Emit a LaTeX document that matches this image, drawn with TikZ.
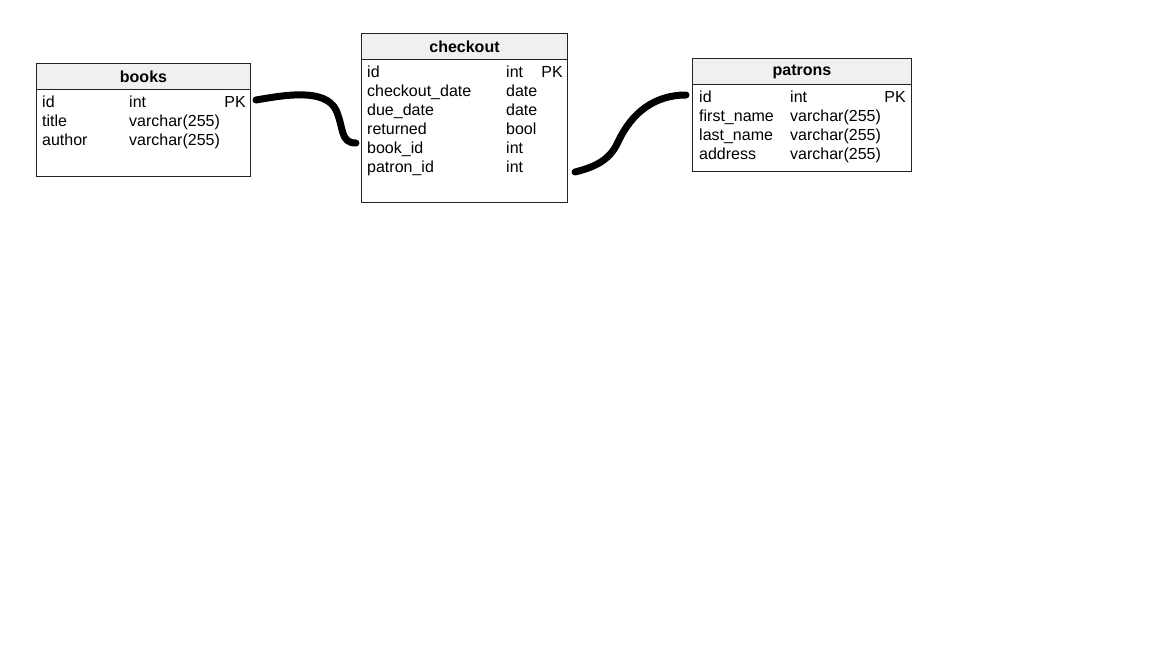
\documentclass[tikz,border=0pt]{standalone}
\usepackage{fontspec}
\setmainfont{Liberation Sans}
\usetikzlibrary{positioning}
\definecolor{hdrgray}{RGB}{240,240,240}
\definecolor{boxline}{RGB}{35,35,35}
\tikzset{
  tblbox/.style={rectangle, draw=boxline, line width=1pt, anchor=north west, inner sep=0pt},
  tblhdr/.style={tblbox, fill=hdrgray, font=\fontsize{16}{19}\selectfont\bfseries},
  field/.style={anchor=base west, inner sep=0pt, font=\fontsize{16}{19}\selectfont},
  keytag/.style={anchor=base east, inner sep=0pt, font=\fontsize{16}{19}\selectfont},
  link/.style={line width=7pt, line cap=round, color=black}
}

\begin{document}
\begin{tikzpicture}[x=1pt, y=-1pt]
  \useasboundingbox (0,0) rectangle (1152,648);

  % books table
  \node[tblbox, minimum width=214pt, minimum height=113pt] (books) at (36,63) {};
  \node[tblhdr, minimum width=214pt, minimum height=26pt] (books-hdr) at (36,63) {books};
  \foreach \fname/\ftype [count=\i] in {id/int, title/{varchar(255)}, author/{varchar(255)}} {
    \node[field] (books-n\i) at (42, 88+19*\i) {\fname};
    \node[field] (books-t\i) at (129, 88+19*\i) {\ftype};
  }
  \node[keytag] (books-pk) at (246,107) {PK};

  % checkout table
  \node[tblbox, minimum width=206pt, minimum height=169pt] (checkout) at (361,33) {};
  \node[tblhdr, minimum width=206pt, minimum height=26pt] (checkout-hdr) at (361,33) {checkout};
  \foreach \fname/\ftype [count=\i] in {id/int, checkout\_date/date, due\_date/date, returned/bool, book\_id/int, patron\_id/int} {
    \node[field] (checkout-n\i) at (367, 58+19*\i) {\fname};
    \node[field] (checkout-t\i) at (506, 58+19*\i) {\ftype};
  }
  \node[keytag] (checkout-pk) at (563,77) {PK};

  % patrons table
  \node[tblbox, minimum width=219pt, minimum height=113pt] (patrons) at (692,58) {};
  \node[tblhdr, minimum width=219pt, minimum height=26pt] (patrons-hdr) at (692,58) {patrons};
  \foreach \fname/\ftype [count=\i] in {id/int, first\_name/{varchar(255)}, last\_name/{varchar(255)}, address/{varchar(255)}} {
    \node[field] (patrons-n\i) at (699, 83+19*\i) {\fname};
    \node[field] (patrons-t\i) at (790, 83+19*\i) {\ftype};
  }
  \node[keytag] (patrons-pk) at (906,102) {PK};

  % link ends
  \coordinate (bk-out) at (256,100);
  \coordinate (co-book) at (356,143);
  \coordinate (co-pat) at (575,172);
  \coordinate (pt-in) at (686,95);

  % links
  \draw[link] (bk-out) .. controls (285,95) and (325,88) .. (336,110)
    .. controls (344,128) and (340,143) .. (co-book);
  \draw[link] (co-pat) .. controls (595,167) and (610,160) .. (618,142)
    .. controls (632,112) and (655,95) .. (pt-in);
\end{tikzpicture}
\end{document}
